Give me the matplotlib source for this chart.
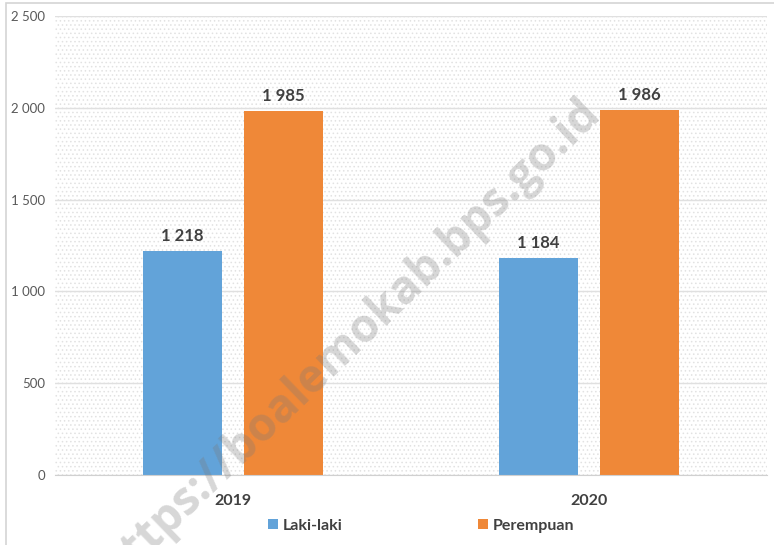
import matplotlib
matplotlib.use("Agg")
import matplotlib.pyplot as plt
from matplotlib.patches import Rectangle
import numpy as np

years = ["2019", "2020"]
laki = [1218, 1184]
perempuan = [1985, 1986]
series_names = ["Laki-laki", "Perempuan"]
yticks = [0, 500, 1000, 1500, 2000, 2500]

BLUE = "#62A3D9"
ORANGE = "#EF8838"
TXT = "#404040"
FONT = "Lato"

def fmt(v):
    return f"{v:,}".replace(",", " ")

fig = plt.figure(figsize=(7.74, 5.45), dpi=100)
fig.patch.set_facecolor("white")
# figure border
fig.add_artist(Rectangle((6/774, -0.05), 1.2, 1 - 3/545 + 0.05, transform=fig.transFigure,
                         fill=False, edgecolor="#d4d4d4", linewidth=1.2))

ax = fig.add_axes([55/774, 1 - 475/545, 712/774, (475 - 16)/545])
ax.set_facecolor("white")
plt.rcParams["hatch.linewidth"] = 0.6
ax.add_patch(Rectangle((0, 0), 1, 1, transform=ax.transAxes, facecolor="white",
                       edgecolor="#e2e2e2", hatch="....", linewidth=0, zorder=0))

x = np.arange(len(years))
w = 0.222
off = 0.142
b1 = ax.bar(x - off, laki, w, color=BLUE, zorder=3, label=series_names[0])
b2 = ax.bar(x + off, perempuan, w, color=ORANGE, zorder=3, label=series_names[1])

for bars, vals in ((b1, laki), (b2, perempuan)):
    for r, v in zip(bars, vals):
        ax.annotate(fmt(v), (r.get_x() + r.get_width() / 2, v), xytext=(0, 5),
                    textcoords="offset points", ha="center", va="bottom",
                    fontsize=12, fontweight="bold", color=TXT, family=FONT, zorder=5)

ax.set_xlim(-0.5, 1.5)
ax.set_ylim(0, 2500)
ax.set_yticks(yticks)
ax.set_yticklabels([fmt(t) for t in yticks], fontsize=9.5, color="#595959", family=FONT)
ax.set_xticks(x)
ax.set_xticklabels(years, fontsize=11.5, fontweight="bold", color=TXT, family=FONT)
ax.tick_params(axis="both", length=0)
ax.tick_params(axis="y", pad=7)
ax.tick_params(axis="x", pad=14)
ax.yaxis.grid(True, color="#e0e0e0", linewidth=1, zorder=1)
ax.set_axisbelow(True)
for s in ["top", "right", "left"]:
    ax.spines[s].set_visible(False)
ax.spines["bottom"].set_color("#d0d0d0")
ax.spines["bottom"].set_zorder(4)

leg = fig.legend(handles=[b1, b2], labels=series_names, loc="center",
                 bbox_to_anchor=(421/774, 1 - 526/545), ncol=2, frameon=False,
                 handlelength=0.6, handleheight=0.6, handletextpad=0.3,
                 columnspacing=8.5, prop={"family": FONT, "size": 11.5, "weight": "bold"})
for t in leg.get_texts():
    t.set_color(TXT)

fig.text(350/774, 1 - 340/545, "https://boalemokab.bps.go.id", rotation=44,
         ha="center", va="center", fontsize=33, fontweight="bold", family="Open Sans",
         color="#7a7a7a", alpha=0.3, zorder=10, rotation_mode="anchor")

fig.savefig("out.png", dpi=100)
